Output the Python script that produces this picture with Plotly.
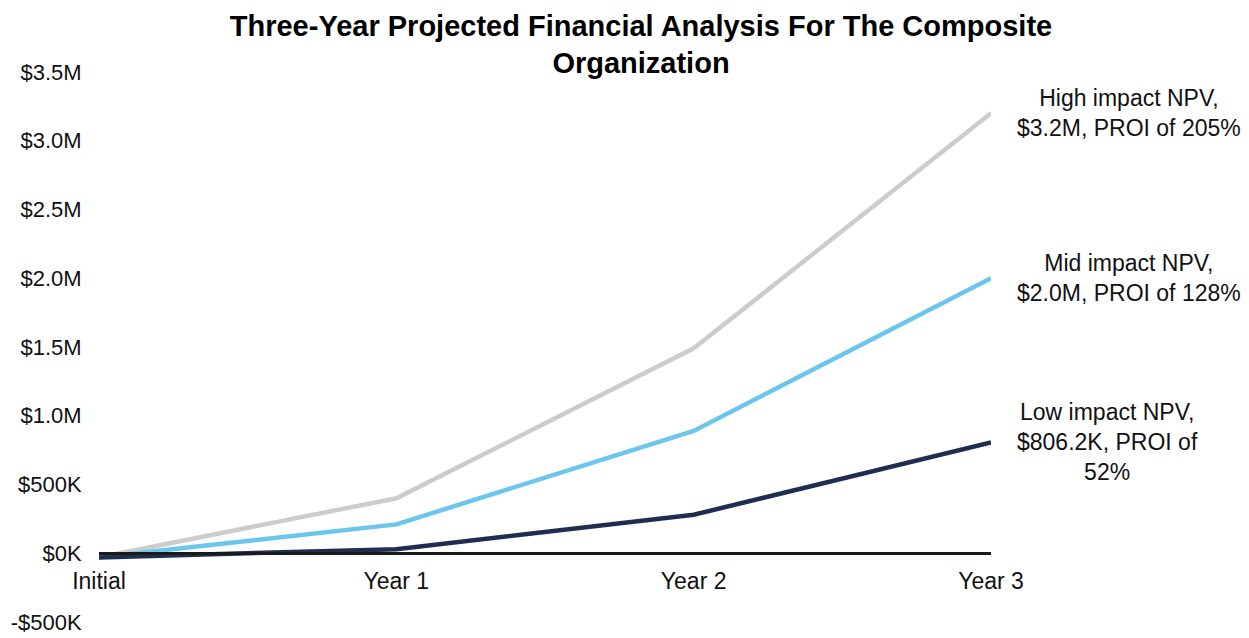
import plotly.graph_objects as go

categories = ["Initial", "Year 1", "Year 2", "Year 3"]
high_values = [-30000, 400000, 1490000, 3200000]
mid_values = [-30000, 210000, 890000, 2000000]
low_values = [-30000, 30000, 280000, 806200]

series_names = ["High impact", "Mid impact", "Low impact"]
series_colors = ["#CCCCCC", "#6CC5EB", "#1F2D50"]
end_labels = [
    "High impact NPV,<br>$3.2M, PROI of 205%",
    "Mid impact NPV,<br>$2.0M, PROI of 128%",
    "Low impact NPV,<br>$806.2K, PROI of<br>52%",
]
label_shifts = [138, 138, 116]

y_tick_vals = [-500000, 0, 500000, 1000000, 1500000, 2000000, 2500000, 3000000, 3500000]
y_tick_text = ["-$500K", "$0K", "$500K", "$1.0M", "$1.5M", "$2.0M", "$2.5M", "$3.0M", "$3.5M"]

title_text = "Three-Year Projected Financial Analysis For The Composite<br>Organization"

FONT = "Liberation Sans, Arial, sans-serif"
W, H = 1241, 630  # page body has an 8px margin

fig = go.Figure()
all_values = [high_values, mid_values, low_values]
for name, vals, color in zip(series_names, all_values, series_colors):
    fig.add_trace(go.Scatter(
        x=list(range(len(categories))), y=vals, mode="lines", name=name,
        line=dict(color=color, width=4.5), hoverinfo="skip",
    ))

for vals, text, shift in zip(all_values, end_labels, label_shifts):
    fig.add_annotation(
        x=len(categories) - 1, y=vals[-1], xref="x", yref="y",
        text=text, showarrow=False, xanchor="center", yanchor="middle",
        xshift=shift, align="center",
        font=dict(family=FONT, size=23, color="#111111"),
    )

fig.update_layout(
    width=W, height=H,
    margin=dict(l=91, r=258, t=64, b=16, autoexpand=False),
    paper_bgcolor="white", plot_bgcolor="white",
    showlegend=False,
    title=dict(
        text=title_text, x=633 / W, xref="container", xanchor="center",
        y=1 - 27.5 / H, yref="container", yanchor="middle",
        font=dict(family=FONT, size=29, color="#000000", weight="bold"),
    ),
    xaxis=dict(
        range=[0, len(categories) - 1],
        tickvals=list(range(len(categories))), ticktext=categories,
        anchor="free", position=0.125, automargin=False,
        showline=True, linecolor="#1a1a1a", linewidth=2.5,
        showgrid=False, zeroline=False,
        ticks="outside", ticklen=6, tickcolor="rgba(0,0,0,0)",
        tickfont=dict(family=FONT, size=23, color="#111111"),
    ),
    yaxis=dict(
        range=[-500000, 3500000], automargin=False,
        tickvals=y_tick_vals, ticktext=y_tick_text,
        showgrid=False, zeroline=False, showline=False,
        ticks="outside", ticklen=12, tickcolor="rgba(0,0,0,0)",
        tickfont=dict(family=FONT, size=22, color="#111111"),
    ),
)

fig.write_html("out.html")
